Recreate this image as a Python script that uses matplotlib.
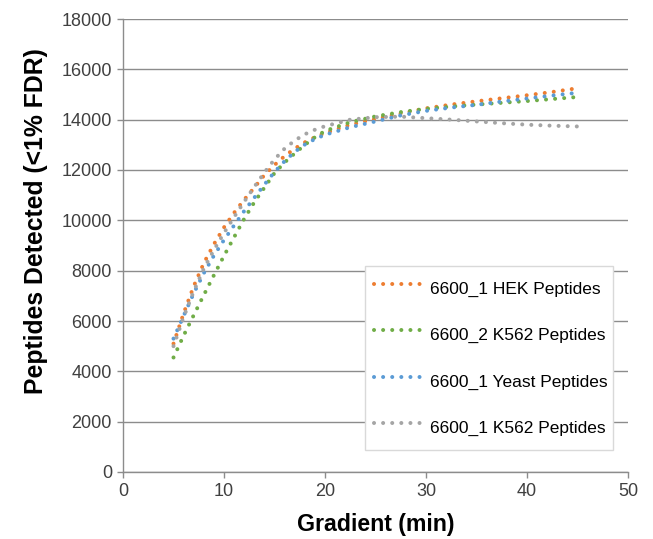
import matplotlib

matplotlib.use("Agg")
import matplotlib.pyplot as plt

plt.rcParams["font.family"] = ["Liberation Sans", "DejaVu Sans"]

# gradient length (min) and peptides detected at <1% FDR
gradient = [5, 6, 7, 8, 9, 10, 11, 12, 13, 14, 15, 16, 17, 18, 19, 20,
            22.5, 25, 27.5, 30, 32.5, 35, 37.5, 40, 42.5, 45]
hek_6600_1 = [5100, 6300, 7380, 8300, 9050, 9720, 10300, 10820, 11300, 11800,
              12200, 12550, 12850, 13100, 13300, 13470,
              13800, 14030, 14250, 14450, 14600, 14730, 14850, 14970, 15100, 15250]
k562_6600_2 = [4550, 5420, 6230, 7030, 7820, 8590, 9330, 10060, 10720, 11300,
               11880, 12300, 12660, 13000, 13300, 13550,
               13900, 14130, 14300, 14430, 14520, 14600, 14670, 14740, 14820, 14900]
yeast_6600_1 = [5300, 6200, 7100, 7900, 8600, 9220, 9800, 10370, 10900, 11420,
                11920, 12350, 12720, 13010, 13230, 13400,
                13700, 13930, 14170, 14350, 14480, 14590, 14720, 14840, 14960, 15070]
k562_6600_1 = [5000, 6150, 7180, 8080, 8820, 9500, 10130, 10740, 11330, 11900,
               12420, 12850, 13170, 13420, 13600, 13740,
               14000, 14100, 14120, 14060, 14000, 13930, 13860, 13800, 13760, 13730]

series = [
    ("6600_1 HEK Peptides", hek_6600_1, "#ED7D31"),
    ("6600_2 K562 Peptides", k562_6600_2, "#70AD47"),
    ("6600_1 Yeast Peptides", yeast_6600_1, "#5B9BD5"),
    ("6600_1 K562 Peptides", k562_6600_1, "#A5A5A5"),
]

fig = plt.figure(figsize=(6.53, 5.39), dpi=100)
ax = fig.add_axes([123 / 653, 67 / 539, 505 / 653, 453 / 539])

for label, values, color in series:
    ax.plot(gradient, values, color=color, lw=2.9, linestyle=(0, (0.01, 2.25)),
            dash_capstyle="round", label=label)

ax.set_xlim(0, 50)
ax.set_ylim(0, 18000)
ax.set_xticks(range(0, 51, 10))
ax.set_yticks(range(0, 18001, 2000))
ax.yaxis.grid(True, color="#8c8c8c", lw=1.0)
ax.set_axisbelow(True)
for side in ("top", "right"):
    ax.spines[side].set_visible(False)
for side in ("left", "bottom"):
    ax.spines[side].set_color("#8c8c8c")
    ax.spines[side].set_linewidth(1.0)
ax.tick_params(colors="#8c8c8c", labelcolor="#404040", labelsize=13,
               length=4, width=1.0, pad=4)

ax.set_xlabel("Gradient (min)", fontsize=16.7, fontweight="bold", labelpad=9)
ax.set_ylabel("Peptides Detected (<1% FDR)", fontsize=17.8, fontweight="bold")
ax.yaxis.set_label_coords(-0.149, 0.554)

leg = ax.legend(loc="upper left", bbox_to_anchor=(0.479, 0.455, 0.491, 0.0),
                mode="expand", borderaxespad=0, fontsize=12.5, frameon=True,
                fancybox=False, edgecolor="#d9d9d9", framealpha=1,
                handlelength=2.8, handleheight=2.1, labelspacing=1.05,
                borderpad=0.5, handletextpad=0.45)
leg.get_frame().set_linewidth(1.0)

fig.savefig("out.png", dpi=100)
plt.close(fig)
